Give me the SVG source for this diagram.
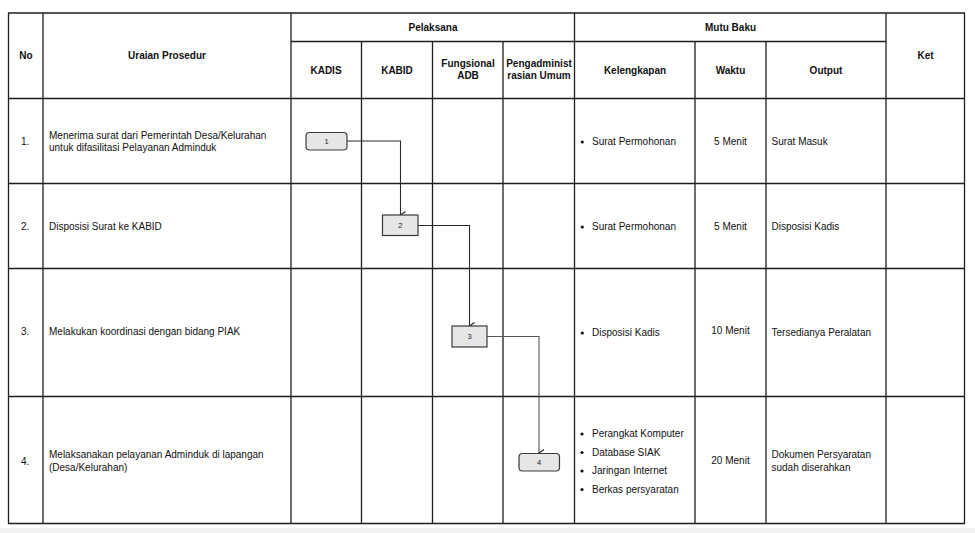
<svg xmlns="http://www.w3.org/2000/svg" width="975" height="533" viewBox="0 0 975 533">
  <defs>
    <marker id="arr" markerWidth="10" markerHeight="10" refX="5" refY="8" orient="auto-start-reverse" markerUnits="userSpaceOnUse" viewBox="0 0 10 10">
      <path d="M1.5,3 L5,8 L8.5,3" fill="none" stroke="#222" stroke-width="1.1"/>
    </marker>
    <style>
      .grid line { stroke: #1e1e1e; stroke-width: 1.3; }
      .h { font-family: "Liberation Sans", Arial, sans-serif; font-size: 10px; font-weight: bold; fill: #111; text-anchor: middle; }
      .t { font-family: "Liberation Sans", Arial, sans-serif; font-size: 10px; fill: #111; }
      .c { text-anchor: middle; }
      .node rect { fill: #e6e6e6; stroke: #3a3a3a; stroke-width: 1.2; }
      .node text { font-family: "Liberation Sans", Arial, sans-serif; font-size: 7.5px; fill: #222; text-anchor: middle; }
      .conn path { fill: none; stroke: #2a2a2a; stroke-width: 1.1; }
    </style>
  </defs>
  <rect width="975" height="533" fill="#ffffff"/>
  <rect x="0" y="528" width="975" height="5" fill="#f1f1f1"/>

  <g id="table" class="grid">
    <line x1="8" y1="13" x2="965" y2="13"/>
    <line x1="291" y1="41.5" x2="886" y2="41.5"/>
    <line x1="8" y1="98.5" x2="965" y2="98.5"/>
    <line x1="8" y1="183.5" x2="965" y2="183.5"/>
    <line x1="8" y1="268.5" x2="965" y2="268.5"/>
    <line x1="8" y1="396.5" x2="965" y2="396.5"/>
    <line x1="8" y1="523.5" x2="965" y2="523.5"/>
    <line x1="8.5" y1="13" x2="8.5" y2="524"/>
    <line x1="43" y1="13" x2="43" y2="524"/>
    <line x1="291" y1="13" x2="291" y2="524"/>
    <line x1="361.5" y1="41.5" x2="361.5" y2="524"/>
    <line x1="432.5" y1="41.5" x2="432.5" y2="524"/>
    <line x1="503" y1="41.5" x2="503" y2="524"/>
    <line x1="574.5" y1="13" x2="574.5" y2="524"/>
    <line x1="695" y1="41.5" x2="695" y2="524"/>
    <line x1="766" y1="41.5" x2="766" y2="524"/>
    <line x1="886" y1="13" x2="886" y2="524"/>
    <line x1="964.5" y1="13" x2="964.5" y2="524"/>
  </g>

  <g id="header">
    <text class="h" x="26" y="59">No</text>
    <text class="h" x="167" y="59">Uraian Prosedur</text>
    <text class="h" x="433" y="30.5">Pelaksana</text>
    <text class="h" x="326" y="74">KADIS</text>
    <text class="h" x="397" y="74">KABID</text>
    <text class="h" x="468" y="67">Fungsional</text>
    <text class="h" x="468" y="79">ADB</text>
    <text class="h" x="539" y="67">Pengadminist</text>
    <text class="h" x="539" y="79">rasian Umum</text>
    <text class="h" x="730.5" y="30.5">Mutu Baku</text>
    <text class="h" x="635" y="74">Kelengkapan</text>
    <text class="h" x="730.5" y="74">Waktu</text>
    <text class="h" x="826" y="74">Output</text>
    <text class="h" x="925.5" y="59">Ket</text>
  </g>

  <g id="row1">
    <text class="t" x="21" y="145">1.</text>
    <text class="t" x="49" y="138.5">Menerima surat dari Pemerintah Desa/Kelurahan</text>
    <text class="t" x="49" y="151">untuk difasilitasi Pelayanan Adminduk</text>
    <circle cx="582.3" cy="142" r="1.6" fill="#111"/>
    <text class="t" x="592" y="145">Surat Permohonan</text>
    <text class="t c" x="730.5" y="145">5 Menit</text>
    <text class="t" x="771.5" y="145">Surat Masuk</text>
  </g>

  <g id="row2">
    <text class="t" x="21" y="230">2.</text>
    <text class="t" x="49" y="230">Disposisi Surat ke KABID</text>
    <circle cx="582.3" cy="227" r="1.6" fill="#111"/>
    <text class="t" x="592" y="230">Surat Permohonan</text>
    <text class="t c" x="730.5" y="230">5 Menit</text>
    <text class="t" x="771.5" y="230">Disposisi Kadis</text>
  </g>

  <g id="row3">
    <text class="t" x="21" y="335">3.</text>
    <text class="t" x="49" y="335">Melakukan koordinasi dengan bidang PIAK</text>
    <circle cx="582.3" cy="333" r="1.6" fill="#111"/>
    <text class="t" x="592" y="336">Disposisi Kadis</text>
    <text class="t c" x="730.5" y="334">10 Menit</text>
    <text class="t" x="771.5" y="336">Tersedianya Peralatan</text>
  </g>

  <g id="row4">
    <text class="t" x="21" y="465">4.</text>
    <text class="t" x="49" y="457.5">Melaksanakan pelayanan Adminduk di lapangan</text>
    <text class="t" x="49" y="470.5">(Desa/Kelurahan)</text>
    <circle cx="582" cy="434" r="1.6" fill="#111"/>
    <text class="t" x="592" y="437">Perangkat Komputer</text>
    <circle cx="582" cy="452.5" r="1.6" fill="#111"/>
    <text class="t" x="592" y="455.5">Database SIAK</text>
    <circle cx="582" cy="471" r="1.6" fill="#111"/>
    <text class="t" x="592" y="474">Jaringan Internet</text>
    <circle cx="582" cy="489.5" r="1.6" fill="#111"/>
    <text class="t" x="592" y="492.5">Berkas persyaratan</text>
    <text class="t c" x="730.5" y="463.5">20 Menit</text>
    <text class="t" x="771.5" y="457.5">Dokumen Persyaratan</text>
    <text class="t" x="771.5" y="470.5">sudah diserahkan</text>
  </g>

  <g id="connectors" class="conn">
    <path d="M347,141 H400.5 V215" marker-end="url(#arr)"/>
    <path d="M418,225.5 H469.5 V326" marker-end="url(#arr)"/>
    <path d="M487,336.5 H539 V453" marker-end="url(#arr)" style="stroke:#555"/>
  </g>

  <g id="node1" class="node">
    <rect x="306" y="132.5" width="41" height="17.5" rx="3.5"/>
    <text x="326.5" y="144">1</text>
  </g>
  <g id="node2" class="node">
    <rect x="382.5" y="215" width="35.5" height="20.5"/>
    <text x="400.3" y="228">2</text>
  </g>
  <g id="node3" class="node">
    <rect x="452" y="326" width="35" height="21"/>
    <text x="469.5" y="339">3</text>
  </g>
  <g id="node4" class="node">
    <rect x="519" y="453.5" width="40.5" height="17.5" rx="3.5"/>
    <text x="539.2" y="465">4</text>
  </g>
</svg>
